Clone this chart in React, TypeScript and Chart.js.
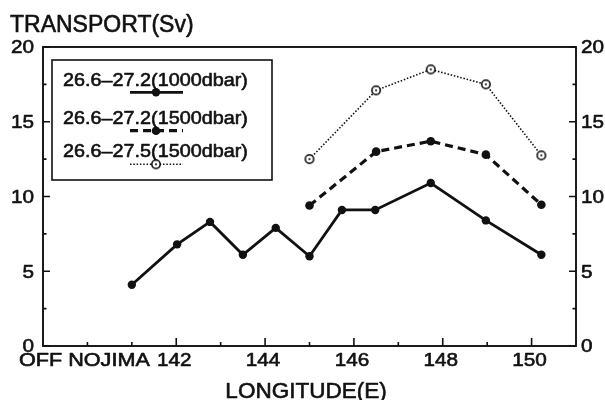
import React, { useEffect, useRef } from "react";
import { Chart, registerables } from "chart.js";

Chart.register(...registerables);

const FONT = "'Liberation Sans', Arial, Helvetica, sans-serif";

// Data (longitude E, transport Sv)
const lonA = [141.0, 142.02, 142.76, 143.5, 144.24, 145.0, 145.73, 146.48, 147.73, 148.97, 150.22];
const transport1000 = [4.1, 6.8, 8.3, 6.1, 7.9, 6.0, 9.1, 9.1, 10.9, 8.4, 6.1];
const lonB = [145.0, 146.5, 147.73, 148.97, 150.22];
const transport1500 = [9.4, 13.0, 13.7, 12.8, 9.45];
const transport1500b = [12.5, 17.1, 18.5, 17.5, 12.75];

const seriesLabels = ["26.6\u201327.2(1000dbar)", "26.6\u201327.2(1500dbar)", "26.6\u201327.5(1500dbar)"];

const yTickValues = [0, 5, 10, 15, 20];
const yMinorTicks = [2.5, 7.5, 12.5, 17.5];
const xTickValues = [142, 144, 146, 148, 150];
const xTickLabels = ["142", "144", "146", "148", "150"];
const xMinorTicks = [140, 141, 143, 145, 147, 149];
const xStartLabel = "OFF NOJIMA";
const xMin = 139;
const xMax = 151;
const yMin = 0;
const yMax = 20;
const yTitle = "TRANSPORT(Sv)";
const xTitle = "LONGITUDE(E)";

function makeCirclePoint(): HTMLCanvasElement {
  const c = document.createElement("canvas");
  c.width = 12;
  c.height = 12;
  const g = c.getContext("2d")!;
  g.beginPath();
  g.arc(6, 6, 4.2, 0, Math.PI * 2);
  g.fillStyle = "#fff";
  g.fill();
  g.lineWidth = 1.5;
  g.strokeStyle = "#000";
  g.stroke();
  g.beginPath();
  g.arc(6, 6, 1, 0, Math.PI * 2);
  g.fillStyle = "#000";
  g.fill();
  return c;
}

function txt(ctx: CanvasRenderingContext2D, s: string, x: number, capY: number, size: number, sx: number, align: string) {
  ctx.save();
  ctx.font = `${size}px ${FONT}`;
  ctx.textBaseline = "alphabetic";
  ctx.textAlign = "left";
  ctx.fillStyle = "#111";
  ctx.strokeStyle = "#111";
  ctx.lineWidth = 0.6;
  ctx.lineJoin = "round";
  const w = ctx.measureText(s).width * sx;
  const left = align === "left" ? x : align === "right" ? x - w : x - w / 2;
  ctx.translate(left, capY + 0.358 * size);
  ctx.scale(sx, 1);
  ctx.fillText(s, 0, 0);
  ctx.strokeText(s, 0, 0);
  ctx.restore();
}

export default function App() {
  const ref = useRef<HTMLCanvasElement | null>(null);

  useEffect(() => {
    if (!ref.current) return;
    const circle = makeCirclePoint();

    const framePlugin = {
      id: "frame",
      afterDatasetsDraw(chart: any) {
        const ctx: CanvasRenderingContext2D = chart.ctx;
        const { left, right, top, bottom } = chart.chartArea;
        const xs = chart.scales.x;
        const ys = chart.scales.y;
        ctx.save();
        ctx.strokeStyle = "#111";
        ctx.lineWidth = 1.9;
        ctx.strokeRect(left, top, right - left, bottom - top);
        ctx.lineWidth = 1.6;
        const yt = (v: number, len: number) => {
          const p = ys.getPixelForValue(v);
          ctx.beginPath();
          ctx.moveTo(left, p);
          ctx.lineTo(left + len, p);
          ctx.moveTo(right, p);
          ctx.lineTo(right - len, p);
          ctx.stroke();
        };
        yTickValues.forEach((v) => yt(v, 7));
        yMinorTicks.forEach((v) => yt(v, 3.5));
        const xt = (v: number, len: number) => {
          const p = xs.getPixelForValue(v);
          ctx.beginPath();
          ctx.moveTo(p, bottom);
          ctx.lineTo(p, bottom - len);
          ctx.stroke();
        };
        xTickValues.forEach((v) => xt(v, 8));
        xMinorTicks.forEach((v) => xt(v, 4));
        ctx.restore();

        yTickValues.forEach((v) => {
          const p = ys.getPixelForValue(v);
          txt(ctx, String(v), left - 9, p, 18, 1.15, "right");
          txt(ctx, String(v), right + 5, p, 18, 1.15, "left");
        });
        xTickValues.forEach((v, i) => {
          const p = xs.getPixelForValue(v);
          txt(ctx, xTickLabels[i], p - 2, bottom + 14, 18, 1.15, "center");
        });
        txt(ctx, xStartLabel, 19, bottom + 14, 18, 1.2, "left");
        txt(ctx, yTitle, 10, 23.5, 23, 1, "left");
        txt(ctx, xTitle, 306, 389.5, 22.5, 1, "center");

        const lx = left + 9;
        const ly = top + 13;
        ctx.save();
        ctx.strokeStyle = "#111";
        ctx.lineWidth = 1.6;
        ctx.strokeRect(lx, ly, 220, 120);
        ctx.restore();
        const rows = [
          { cap: 79.3, line: 92.3 },
          { cap: 117, line: 130.7 },
          { cap: 150, line: 164.3 },
        ];
        chart.data.datasets.forEach((ds: any, i: number) => {
          const r = rows[i];
          txt(ctx, ds.label, lx + 11, r.cap, 18.5, 1.07, "left");
          ctx.save();
          ctx.strokeStyle = ds.borderColor;
          ctx.lineWidth = ds.borderWidth;
          ctx.setLineDash(ds.borderDash || []);
          ctx.beginPath();
          ctx.moveTo(lx + 78, r.line);
          ctx.lineTo(lx + 131, r.line);
          ctx.stroke();
          ctx.setLineDash([]);
          const mx = lx + 104;
          if (ds.pointStyle === "circle") {
            ctx.beginPath();
            ctx.arc(mx, r.line, ds.pointRadius, 0, Math.PI * 2);
            ctx.fillStyle = ds.pointBackgroundColor;
            ctx.fill();
          } else {
            ctx.drawImage(ds.pointStyle, mx - 6, r.line - 6);
          }
          ctx.restore();
        });
      },
    };

    const chart = new Chart(ref.current, {
      type: "line",
      data: {
        datasets: [
          {
            label: seriesLabels[0],
            data: lonA.map((x, i) => ({ x, y: transport1000[i] })),
            borderColor: "#111",
            borderWidth: 2.8,
            pointStyle: "circle",
            pointRadius: 4.2,
            pointBorderWidth: 0,
            pointBackgroundColor: "#111",
          },
          {
            label: seriesLabels[1],
            data: lonB.map((x, i) => ({ x, y: transport1500[i] })),
            borderColor: "#111",
            borderWidth: 3.2,
            borderDash: [8, 5],
            pointStyle: "circle",
            pointRadius: 4.3,
            pointBorderWidth: 0,
            pointBackgroundColor: "#111",
          },
          {
            label: seriesLabels[2],
            data: lonB.map((x, i) => ({ x, y: transport1500b[i] })),
            borderColor: "#111",
            borderWidth: 1.6,
            borderDash: [1.5, 1.8],
            pointStyle: circle as any,
            pointRadius: 4.3,
            pointBackgroundColor: "#fff",
          },
        ],
      } as any,
      options: {
        animation: false,
        responsive: false,
        devicePixelRatio: 1,
        layout: { padding: { left: 43, right: 29, top: 47, bottom: 54 } },
        plugins: { legend: { display: false }, tooltip: { enabled: false } },
        elements: { line: { tension: 0 } },
        scales: {
          x: { type: "linear", min: xMin, max: xMax, display: false },
          y: { type: "linear", min: yMin, max: yMax, display: false },
        },
      } as any,
      plugins: [framePlugin],
    });
    return () => chart.destroy();
  }, []);

  return (
    <div style={{ position: "absolute", left: 0, top: 0, width: 605, height: 400, background: "#fff" }}>
      <canvas ref={ref} width={605} height={400} style={{ display: "block" }} />
    </div>
  );
}
